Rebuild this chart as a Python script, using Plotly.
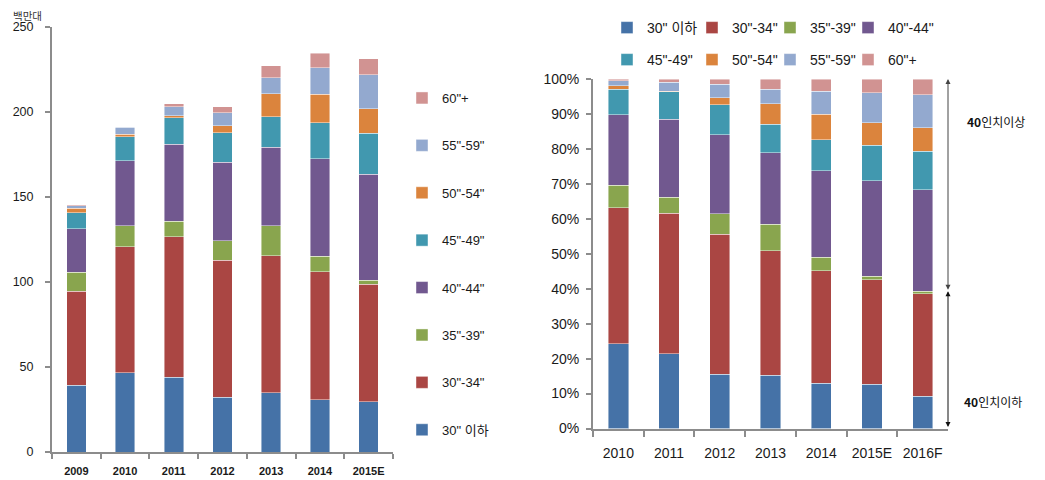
import plotly.graph_objects as go

series = ['30" 이하', '30"-34"', '35"-39"', '40"-44"', '45"-49"', '50"-54"', '55"-59"', '60"+']
colors = ['#4572A7', '#AA4643', '#89A54E', '#71588F', '#4198AF', '#DB843D', '#93A9CF', '#D19392']

# Left chart: shipments (millions of units)
years_left = ['2009', '2010', '2011', '2012', '2013', '2014', '2015E']
left_under30 = [39.2, 46.7, 43.9, 32.2, 34.9, 30.8, 29.6]
left_30_34 = [55.3, 73.9, 82.6, 80.7, 80.4, 75.1, 69.2]
left_35_39 = [11.2, 12.4, 9.2, 11.4, 17.7, 9.2, 2.2]
left_40_44 = [25.5, 38.4, 45.3, 46.1, 46.2, 57.3, 62.5]
left_45_49 = [9.6, 13.9, 15.7, 17.5, 18.1, 21.4, 24.0]
left_50_54 = [2.7, 1.6, 1.0, 3.9, 13.3, 16.6, 14.5]
left_55_59 = [1.4, 4.1, 5.5, 7.8, 9.6, 15.5, 20.0]
left_60plus = [0.4, 0.4, 1.8, 3.4, 6.9, 8.8, 9.2]
left_values = [left_under30, left_30_34, left_35_39, left_40_44,
               left_45_49, left_50_54, left_55_59, left_60plus]
left_ticks = [0, 50, 100, 150, 200, 250]

# Right chart: share (%)
years_right = ['2010', '2011', '2012', '2013', '2014', '2015E', '2016F']
right_under30 = [24.3, 21.4, 15.5, 15.2, 13.0, 12.6, 9.2]
right_30_34 = [38.9, 40.2, 40.1, 35.6, 32.2, 29.9, 29.4]
right_35_39 = [6.4, 4.6, 5.8, 7.7, 3.8, 1.1, 0.7]
right_40_44 = [20.2, 22.3, 22.7, 20.4, 24.7, 27.3, 29.0]
right_45_49 = [7.2, 7.8, 8.5, 8.1, 8.9, 10.2, 11.1]
right_50_54 = [1.0, 0.2, 2.0, 5.9, 7.3, 6.4, 6.6]
right_55_59 = [1.5, 2.6, 3.9, 4.2, 6.6, 8.6, 9.5]
right_60plus = [0.5, 0.9, 1.5, 2.9, 3.5, 3.9, 4.5]
right_values = [right_under30, right_30_34, right_35_39, right_40_44,
                right_45_49, right_50_54, right_55_59, right_60plus]
right_ticks = list(range(0, 101, 10))
right_ticktext = [f'{v}%' for v in right_ticks]

FONT = 'Liberation Sans, Noto Sans CJK KR, sans-serif'
KFONT = 'Noto Sans CJK KR, Liberation Sans, sans-serif'
AXIS_COL = '#8C8C8C'

# the page body adds an 8px offset; the figure fills the rest of the window
OFF = 8
W, H = 1045 - OFF, 480 - OFF


def px(x):
    return (x - OFF) / W


def py(y):
    return 1 - (y - OFF) / H


legend_widths = [40, 33, 33, None]

fig = go.Figure()

n = len(series)
for i, (name, col) in enumerate(zip(series, colors)):
    fig.add_trace(go.Bar(
        x=years_left, y=left_values[i], name=name, marker_color=col,
        marker_line=dict(color='rgba(255,255,255,0.55)', width=0.8),
        width=0.4, xaxis='x', yaxis='y', legend='legend',
        legendgroup='L' + str(i), legendrank=100 + (n - i), hoverinfo='x+y+name'))

for i, (name, col) in enumerate(zip(series, colors)):
    fig.add_trace(go.Bar(
        x=years_right, y=right_values[i], name=name, marker_color=col,
        marker_line=dict(color='rgba(255,255,255,0.55)', width=0.8),
        width=0.4, xaxis='x2', yaxis='y2',
        legend='legend2' if i < 4 else 'legend3',
        legendwidth=legend_widths[i % 4],
        hoverinfo='x+y+name'))

# split point (top of 35"-39") for the 2016F bar
split = right_under30[-1] + right_30_34[-1] + right_35_39[-1]

fig.update_layout(
    width=W, height=H,
    barmode='stack',
    plot_bgcolor='white', paper_bgcolor='white',
    margin=dict(l=0, r=0, t=0, b=0, autoexpand=False),
    font=dict(family=FONT, color='#1a1a1a', size=13),
    xaxis=dict(domain=[px(52), px(393)], anchor='y', showline=True, linecolor=AXIS_COL, linewidth=2,
               ticks='outside', tickson='boundaries', ticklen=5, tickcolor=AXIS_COL, tickwidth=2,
               tickfont=dict(size=11, family=FONT, weight='bold'), showgrid=False,
               range=[-0.5, 6.5], ticklabelstandoff=8, tickangle=0, automargin=False),
    yaxis=dict(domain=[py(452), py(27)], anchor='x', showline=True, linecolor=AXIS_COL, linewidth=2,
               ticks='outside', ticklen=5, tickcolor=AXIS_COL, tickwidth=2, range=[0, 250],
               tickvals=left_ticks, tickfont=dict(size=12.5), showgrid=False, zeroline=False,
               ticklabelstandoff=9, automargin=False),
    xaxis2=dict(domain=[px(593), px(948)], anchor='y2', showline=True, linecolor=AXIS_COL, linewidth=2,
                ticks='outside', tickson='boundaries', ticklen=6, tickcolor=AXIS_COL, tickwidth=2,
                tickfont=dict(size=14), showgrid=False, range=[-0.5, 6.5], ticklabelstandoff=11,
                tickangle=0, automargin=False),
    yaxis2=dict(domain=[py(428.5), py(79)], anchor='x2', showline=True, linecolor=AXIS_COL, linewidth=2,
                ticks='outside', ticklen=5, tickcolor=AXIS_COL, tickwidth=2, range=[0, 100],
                tickvals=right_ticks, ticktext=right_ticktext, tickfont=dict(size=14), showgrid=False,
                zeroline=False, ticklabelstandoff=4, automargin=False),
    legend=dict(x=px(402), xanchor='left', y=py(83), yanchor='top', orientation='v',
                traceorder='grouped', tracegroupgap=27.5, font=dict(size=13),
                bgcolor='rgba(0,0,0,0)'),
    legend2=dict(x=px(607), xanchor='left', y=py(28), yanchor='middle', orientation='h',
                 traceorder='normal', font=dict(size=14), bgcolor='rgba(0,0,0,0)'),
    legend3=dict(x=px(607), xanchor='left', y=py(60), yanchor='middle', orientation='h',
                 traceorder='normal', font=dict(size=14), bgcolor='rgba(0,0,0,0)'),
    showlegend=True,
)

fig.add_annotation(text='백만대', xref='paper', yref='paper', x=px(12), y=py(15.5),
                   xanchor='left', yanchor='middle', showarrow=False, borderpad=0,
                   font=dict(family=KFONT, size=10.5, color='#333333'))

# double arrows on the right chart
fig.add_annotation(xref='x2', yref='y2', axref='x2', ayref='y2', x=6.5, y=100, ax=6.5, ay=split,
                   text='', showarrow=True, arrowside='end+start', arrowhead=2, arrowsize=1,
                   arrowwidth=1, arrowcolor='#444444')
fig.add_annotation(xref='x2', yref='y2', axref='x2', ayref='y2', x=6.5, y=split, ax=6.5, ay=0,
                   text='', showarrow=True, arrowside='end+start', arrowhead=2, arrowsize=1,
                   arrowwidth=1, arrowcolor='#111111')
fig.add_annotation(text='<b>40</b>인치이상', xref='paper', yref='paper', x=px(965), y=py(121),
                   xanchor='left', yanchor='middle', showarrow=False,
                   font=dict(family=KFONT, size=12, color='#111111'))
fig.add_annotation(text='<b>40</b>인치이하', xref='paper', yref='paper', x=px(962), y=py(401),
                   xanchor='left', yanchor='middle', showarrow=False,
                   font=dict(family=KFONT, size=12, color='#111111'))

fig.write_html('out.html')
